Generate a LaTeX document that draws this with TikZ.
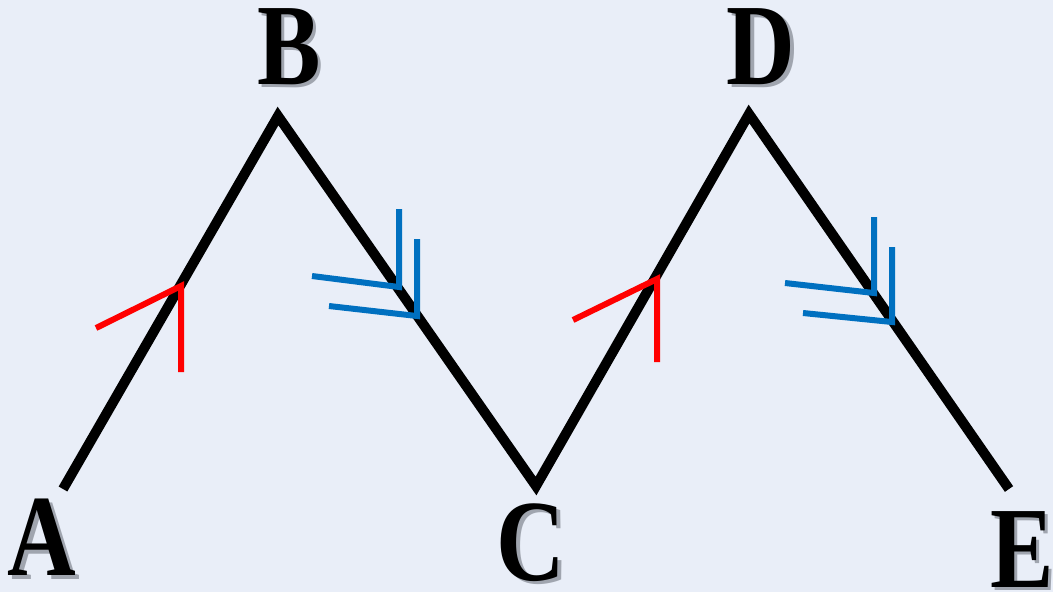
\documentclass[tikz,border=0pt]{standalone}
\usepackage{fontspec}
\setmainfont{Liberation Serif}
\definecolor{bg}{RGB}{233,238,248}
\definecolor{mred}{RGB}{255,0,0}
\definecolor{mblue}{RGB}{0,112,192}
\definecolor{shade}{RGB}{160,165,175}
\newcommand{\lbltext}[1]{\scalebox{0.82}[1]{\fontsize{66}{66}\selectfont\bfseries #1}}
\newcommand{\shlbl}[1]{\makebox[0pt][l]{\hspace{0.07cm}\raisebox{-0.07cm}{\color{shade}\lbltext{#1}}}\lbltext{#1}}
\tikzset{
  zig/.style={line width=0.2cm, black, line join=miter},
  redmark/.style={line width=0.12cm, mred, line join=miter},
  bluemark/.style={line width=0.12cm, mblue, line join=miter},
  lbl/.style={inner sep=0pt, anchor=center}
}
\begin{document}
\begin{tikzpicture}[x=0.02cm, y=-0.02cm]
\fill[bg] (0,0) rectangle (1053,592);
\useasboundingbox (0,0) rectangle (1053,592);
% vertices
\coordinate (pA) at (63,489);
\coordinate (pB) at (278,116);
\coordinate (pC) at (536,486);
\coordinate (pD) at (749,114);
\coordinate (pE) at (1009,489);
\draw[zig] (pA) -- (pB) -- (pC) -- (pD) -- (pE);
% red marks
\coordinate (r1) at (181,286);
\draw[redmark] (96,328) -- (r1) -- (181,372);
\coordinate (r2) at (657,279);
\draw[redmark] (573,320) -- (r2) -- (657,362);
% blue marks segment BC
\coordinate (b1) at (399,287);
\coordinate (b2) at (417,316);
\draw[bluemark] (312,276) -- (b1) -- (399,209);
\draw[bluemark] (329,306) -- (b2) -- (417,239);
% blue marks segment DE
\coordinate (b3) at (874,293);
\coordinate (b4) at (892,322);
\draw[bluemark] (785,283) -- (b3) -- (874,217);
\draw[bluemark] (803,313) -- (b4) -- (892,247);
% labels with shadows
\node[lbl] (lA) at (42,539) {\shlbl{A}};
\node[lbl] (lB) at (289,48) {\shlbl{B}};
\node[lbl] (lC) at (531,544) {\shlbl{C}};
\node[lbl] (lD) at (761,48) {\shlbl{D}};
\node[lbl] (lE) at (1022,551) {\shlbl{E}};
\end{tikzpicture}
\end{document}
